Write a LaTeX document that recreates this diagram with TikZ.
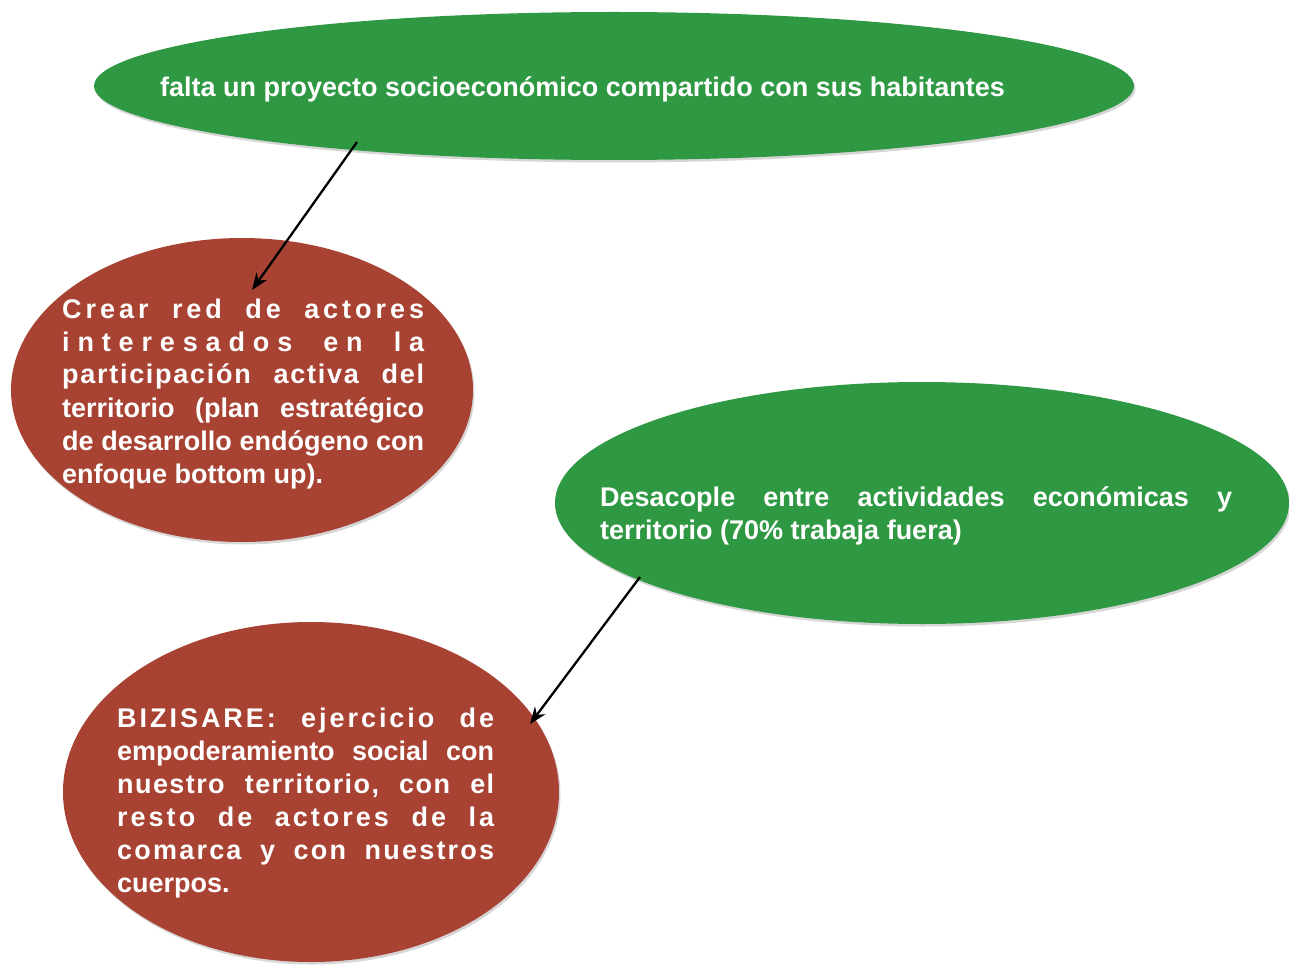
\documentclass[tikz,border=0pt]{standalone}
\usepackage{fontspec}
\setmainfont{Liberation Sans}
\usetikzlibrary{shapes.geometric,arrows.meta,calc,shadows}
\definecolor{shapegreen}{RGB}{47,152,66}
\definecolor{shapered}{RGB}{168,66,50}
\makeatletter
\newcommand\lsweight{5}
\newcommand\lsletters[1]{\@tfor\lsx:=#1\do{\lsx\hskip0pt plus1fil\relax}\unskip}
\def\lswords#1 #2\@nil{\lsletters{#1}\ifx\relax#2\relax\else\hskip.278em plus\lsweight fil\relax\lswords#2\@nil\fi}
\newcommand\LS[2][5]{\hbox to\linewidth{\def\lsweight{#1}\lswords#2 \@nil}}
\newcommand\WS[1]{\hbox to\linewidth{\spaceskip=.278em plus 1fil\relax #1}}
\newcommand\NL[1]{\hbox{#1}}
\makeatother
\tikzset{
  blob/.style={ellipse, inner sep=0pt, outer sep=0pt, draw=none,
    drop shadow={opacity=0.32, shadow xshift=1.5pt, shadow yshift=-2.5pt}},
  greenblob/.style={blob, fill=shapegreen},
  redblob/.style={blob, fill=shapered},
  label/.style={inner sep=0pt, text=white, font=\bfseries\fontsize{27}{33}\selectfont},
  conn/.style={line width=2.3pt, -{Stealth[length=17pt,width=13pt]}}
}
\begin{document}
\begin{tikzpicture}[x=1pt,y=-1pt]
\useasboundingbox (0,0) rectangle (1289,965);
\fill[white] (0,0) rectangle (1289,965);
% shapes
\node[greenblob, minimum width=1040pt, minimum height=148pt] (topE) at (614,86) {};
\node[redblob, minimum width=462pt, minimum height=304pt] (redL) at (242,390) {};
\node[greenblob, minimum width=734pt, minimum height=242pt] (greenR) at (922,503) {};
\node[redblob, minimum width=496pt, minimum height=340pt] (redB) at (311,792) {};
% connector ends
\coordinate (a1s) at ($(topE.center)+(-257,56)$);
\coordinate (a1e) at ($(redL.center)+(10,-100)$);
\coordinate (a2s) at ($(greenR.center)+(-282,74)$);
\coordinate (a2e) at ($(redB.center)+(219,-68)$);
\draw[conn] (a1s) -- (a1e);
\draw[conn] (a2s) -- (a2e);
% texts
\node[label, anchor=base west] (t1) at (160,97) {falta un proyecto socioeconómico compartido con sus habitantes};
\node[label, anchor=base west] (t2) at (62,318) {\begin{minipage}[t]{362pt}\fontsize{27}{33}\selectfont\bfseries
\LS[4]{Crear red de actores}
\LS[3]{interesados en la}
\LS[9]{participación activa del}
\WS{territorio (plan estratégico}
\WS{de desarrollo endógeno con}
\NL{enfoque bottom up).}
\end{minipage}};
\node[label, anchor=base west] (t3) at (600,506) {\begin{minipage}[t]{632pt}\fontsize{27}{33}\selectfont\bfseries
\WS{Desacople entre actividades económicas y}
\NL{territorio (70\% trabaja fuera)}
\end{minipage}};
\node[label, anchor=base west] (t4) at (117,727) {\begin{minipage}[t]{377pt}\fontsize{27}{33}\selectfont\bfseries
\LS[6]{BIZISARE: ejercicio de}
\WS{empoderamiento social con}
\LS[9]{nuestro territorio, con el}
\LS[5]{resto de actores de la}
\LS[5]{comarca y con nuestros}
\NL{cuerpos.}
\end{minipage}};
\end{tikzpicture}
\end{document}
